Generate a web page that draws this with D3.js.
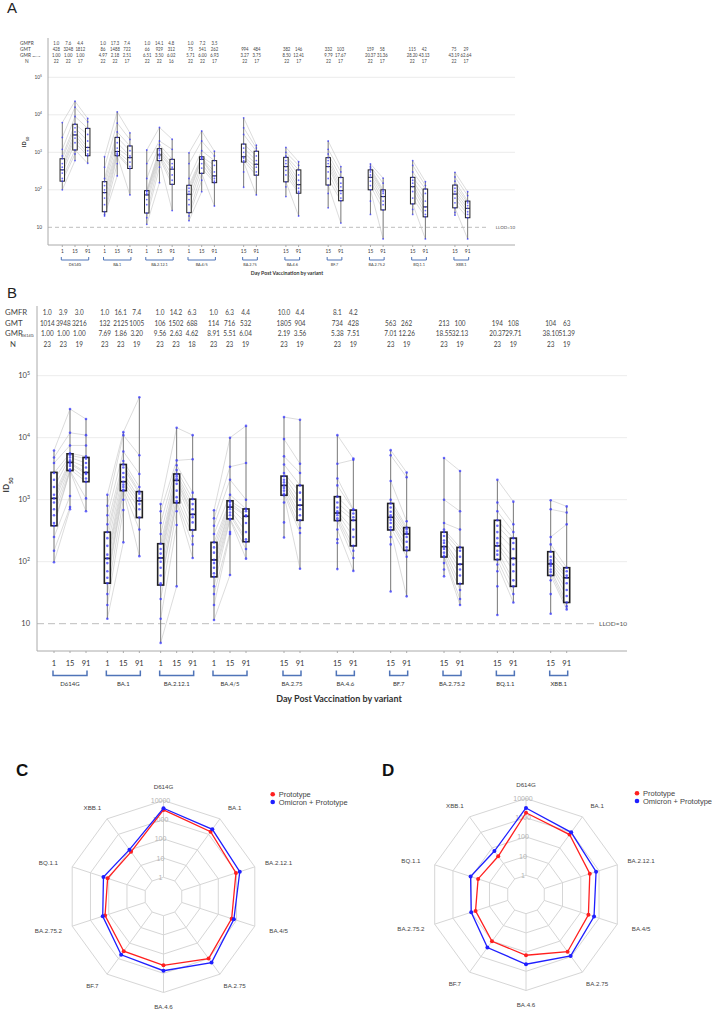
<!DOCTYPE html>
<html>
<head>
<meta charset="utf-8">
<script src="https://cdn.jsdelivr.net/npm/d3@7"></script>
<style>
body { margin: 0; background: #fff; }
svg { display: block; font-family: Lato, "Liberation Sans", sans-serif; }
</style>
</head>
<body>
<div id="fig"></div>
<script>
// variants and sampling days
const variants = ["D614G", "BA.1", "BA.2.12.1", "BA.4/5", "BA.2.75", "BA.4.6", "BF.7", "BA.2.75.2", "BQ.1.1", "XBB.1"];
const dayList = [[1, 15, 91], [1, 15, 91], [1, 15, 91], [1, 15, 91], [15, 91], [15, 91], [15, 91], [15, 91], [15, 91], [15, 91]];

// panel A table (prototype)
const aGMFR = ["1.0", "7.6", "4.4", "1.0", "17.3", "7.4", "1.0", "14.1", "4.8", "1.0", "7.2", "3.5", "", "", "", "", "", "", "", "", "", "", "", ""];
const aGMT = [428, 3248, 1812, 86, 1488, 722, 66, 929, 312, 75, 541, 262, 994, 484, 382, 146, 332, 103, 159, 58, 115, 42, 75, 29];
const aGMR = ["1.00", "1.00", "1.00", "4.97", "2.18", "2.51", "6.51", "3.50", "6.02", "5.71", "6.00", "6.93", "3.27", "3.75", "8.50", "12.41", "9.79", "17.67", "20.37", "31.36", "28.20", "43.13", "43.19", "62.64"];
const aN = [22, 22, 17, 22, 22, 17, 22, 22, 16, 22, 22, 17, 22, 17, 22, 17, 22, 17, 22, 17, 22, 17, 22, 17];

// panel B table (omicron + prototype)
const bGMFR = ["1.0", "3.9", "3.0", "1.0", "16.1", "7.4", "1.0", "14.2", "6.3", "1.0", "6.3", "4.4", "10.0", "4.4", "8.1", "4.2", "", "", "", "", "", "", "", ""];
const bGMT = [1014, 3948, 3216, 132, 2125, 1005, 106, 1502, 688, 114, 716, 532, 1805, 904, 734, 428, 563, 262, 213, 100, 194, 108, 104, 63];
const bGMR = ["1.00", "1.00", "1.00", "7.69", "1.86", "3.20", "9.56", "2.63", "4.62", "8.91", "5.51", "6.04", "2.19", "3.56", "5.38", "7.51", "7.01", "12.26", "18.55", "32.13", "20.37", "29.71", "38.10", "51.39"];
const bN = [23, 23, 19, 23, 23, 19, 23, 23, 18, 23, 23, 19, 23, 19, 23, 19, 23, 19, 23, 19, 23, 19, 23, 19];

// box stats
const aQ1 = [170, 1150, 810, 26, 810, 370, 24, 600, 140, 24.5, 275, 155, 550, 245, 163, 81, 134, 51, 100, 29, 42, 19, 33, 18];
const aMed = [340, 2900, 1350, 84, 1050, 720, 73, 850, 355, 76, 650, 235, 760, 480, 415, 137, 415, 95, 215, 66, 121, 35, 77, 32];
const aQ3 = [675, 5600, 4350, 165, 2500, 1480, 95, 1250, 650, 132, 760, 600, 1660, 1070, 735, 340, 720, 214, 340, 100, 215, 105, 134, 50];
const bQ1 = [380, 2950, 1950, 45, 1400, 515, 42, 890, 325, 57, 490, 210, 1180, 465, 460, 180, 325, 152, 119, 44, 108, 40, 60, 22];
const bMed = [1050, 4000, 2750, 113, 1950, 960, 115, 2050, 580, 107, 760, 540, 1700, 815, 610, 465, 520, 280, 175, 91, 180, 113, 92, 55];
const bQ3 = [2760, 5500, 4800, 300, 3700, 1350, 195, 2600, 1020, 205, 960, 710, 2400, 1700, 1120, 680, 870, 355, 300, 170, 465, 240, 145, 80];

// individual titres, one list per column (subjects in the same order)
const aPts = [
  [6200, 2500, 1200, 800, 675, 500, 400, 340, 280, 200, 170, 100],
  [23000, 16000, 9000, 5600, 4500, 3500, 2900, 2400, 1800, 1150, 900, 600],
  [8000, 6500, 4350, 3000, 2000, 1350, 1100, 900, 810, 510],
  [760, 400, 200, 165, 130, 100, 84, 60, 40, 26, 22, 20],
  [12000, 6000, 3500, 2500, 1800, 1300, 1050, 950, 880, 810, 500, 235],
  [3300, 2200, 1480, 1100, 800, 720, 550, 420, 370, 73],
  [1150, 500, 200, 95, 90, 80, 73, 55, 40, 24, 18, 12],
  [4600, 2000, 1600, 1250, 1100, 950, 850, 780, 700, 600, 400, 155],
  [2230, 1200, 650, 500, 400, 355, 250, 180, 140, 28],
  [970, 500, 200, 132, 110, 90, 76, 55, 40, 24.5, 20, 15],
  [3700, 2000, 1100, 760, 720, 680, 650, 500, 380, 275, 180, 89],
  [1070, 800, 600, 450, 300, 235, 200, 170, 155, 37],
  [8300, 4500, 3000, 1660, 1300, 1000, 760, 700, 600, 550, 300, 117],
  [1550, 1300, 1070, 800, 600, 480, 400, 300, 245, 73],
  [1350, 1000, 800, 735, 600, 500, 415, 330, 250, 163, 120, 66],
  [560, 450, 340, 250, 180, 137, 110, 90, 81, 20],
  [2000, 1200, 900, 720, 600, 500, 415, 300, 200, 134, 80, 33],
  [415, 300, 214, 150, 120, 95, 80, 60, 51, 13],
  [490, 420, 380, 340, 300, 250, 215, 170, 130, 100, 50, 22],
  [205, 150, 100, 90, 80, 66, 50, 40, 29, 4.9],
  [600, 450, 300, 215, 180, 150, 121, 90, 60, 42, 30, 22],
  [165, 130, 105, 80, 50, 35, 28, 22, 19, 4.9],
  [293, 220, 170, 134, 110, 90, 77, 60, 45, 33, 25, 21],
  [89, 70, 50, 45, 38, 32, 26, 22, 18, 4.9]
];
const bPts = [
  [6200, 4800, 3900, 2700, 2100, 1600, 1200, 1050, 900, 700, 560, 420, 380, 250, 150, 98],
  [29000, 12000, 7500, 5600, 5200, 4800, 4300, 4000, 3800, 3500, 3100, 2950, 2900, 1150, 760, 700],
  [20000, 11000, 7500, 5000, 4600, 3900, 3300, 2750, 2600, 2200, 1950, 1050, 650],
  [1200, 800, 560, 400, 300, 240, 180, 130, 113, 95, 70, 55, 45, 30, 20, 12],
  [12300, 11000, 6000, 4200, 3700, 3300, 2700, 2300, 1950, 1750, 1600, 1450, 1400, 1000, 680, 205],
  [45000, 5200, 2600, 1600, 1350, 1250, 1050, 960, 850, 700, 515, 330, 123],
  [850, 650, 420, 280, 195, 160, 135, 115, 100, 80, 60, 45, 42, 25, 12, 4.9],
  [14500, 4300, 3600, 3000, 2600, 2400, 2200, 2050, 1800, 1400, 1100, 950, 890, 650, 390, 40],
  [11000, 4500, 1300, 1020, 850, 700, 580, 520, 430, 325, 260, 190, 115],
  [675, 500, 380, 280, 205, 170, 140, 107, 95, 80, 65, 57, 40, 30, 20, 11.5],
  [10000, 3400, 2100, 1200, 960, 900, 820, 760, 700, 620, 560, 490, 480, 300, 280, 61],
  [15500, 3900, 1000, 710, 650, 560, 540, 420, 300, 230, 210, 160, 112],
  [21500, 9500, 5000, 3700, 2700, 2400, 2100, 1900, 1700, 1550, 1400, 1250, 1180, 900, 430, 245],
  [19500, 3800, 2700, 1700, 1300, 1000, 815, 700, 560, 465, 350, 290, 77],
  [11000, 3800, 2200, 1700, 1120, 900, 750, 650, 610, 560, 500, 460, 330, 230, 200, 76],
  [4600, 4400, 700, 680, 600, 520, 465, 330, 250, 180, 150, 115, 71],
  [6300, 5200, 2000, 1000, 870, 750, 640, 560, 520, 470, 420, 360, 325, 250, 190, 33],
  [2750, 2300, 450, 355, 330, 300, 280, 250, 210, 170, 152, 120, 27.6],
  [4700, 1000, 420, 330, 300, 260, 220, 200, 175, 160, 140, 125, 119, 95, 75, 58],
  [2900, 650, 330, 170, 150, 120, 91, 75, 60, 44, 35, 25, 20],
  [2100, 900, 650, 465, 380, 300, 240, 200, 180, 150, 130, 108, 90, 70, 40, 13.8],
  [930, 400, 300, 240, 200, 160, 113, 90, 70, 50, 40, 30, 22],
  [980, 700, 250, 190, 145, 120, 105, 97, 92, 85, 75, 68, 60, 50, 30, 14.5],
  [780, 620, 400, 80, 70, 60, 55, 45, 35, 28, 22, 19, 17]
];

const radarRings = [1, 10, 100, 1000, 10000];

const W = 712, H = 1011;
const svg = d3.select("#fig").append("svg").attr("width", W).attr("height", H);
svg.append("rect").attr("width", W).attr("height", H).attr("fill", "#fff");

// one entry per plotted column
const cols = [];
variants.forEach((v, gi) => dayList[gi].forEach((d, di) => cols.push({ v: v, gi: gi, di: di, n: dayList[gi].length, day: d })));

function drawPanel(o) {
  const g = svg.append("g");
  const y = o.y;
  const x = c => o.gx(c.gi) + (c.di - (c.n - 1) / 2) * o.step;
  const tx = c => o.tx(c.gi) + (c.di - (c.n - 1) / 2) * o.tstep;

  // grid
  g.selectAll(null).data([100, 1000, 10000, 100000]).join("line")
    .attr("x1", o.left).attr("x2", o.right)
    .attr("y1", d => y(d)).attr("y2", d => y(d))
    .attr("stroke", "#ececec").attr("stroke-width", 1);
  g.append("line").attr("x1", o.left).attr("x2", o.llodEnd)
    .attr("y1", y(10)).attr("y2", y(10))
    .attr("stroke", "#bdbdbd").attr("stroke-width", 1).attr("stroke-dasharray", o.dash);
  g.append("text").attr("x", o.right).attr("y", y(10)).attr("dy", "0.35em")
    .attr("text-anchor", "end").attr("font-size", o.fsSmall).attr("fill", "#555").text("LLOD=10");

  // axes
  g.append("line").attr("x1", o.left).attr("x2", o.left).attr("y1", o.axisTop).attr("y2", o.bottom).attr("stroke", "#aaa");
  g.append("line").attr("x1", o.left).attr("x2", o.right).attr("y1", o.bottom).attr("y2", o.bottom).attr("stroke", "#aaa");

  // y tick labels with superscripts
  const yt = g.selectAll(null).data([10, 100, 1000, 10000, 100000]).join("text")
    .attr("x", o.yTickX).attr("y", d => y(d)).attr("dy", "0.35em")
    .attr("text-anchor", "end").attr("font-size", o.fsTick).attr("fill", "#444");
  yt.append("tspan").text("10");
  yt.filter(d => d > 10).append("tspan").attr("baseline-shift", "super")
    .attr("font-size", o.fsTick * 0.7).text(d => Math.round(Math.log10(d)));

  // y label
  const yl = g.append("text").attr("transform", "translate(" + o.ylab[0] + "," + o.ylab[1] + ") rotate(-90)")
    .attr("text-anchor", "middle").attr("font-size", o.fsYlab).attr("font-weight", "bold").attr("fill", "#333");
  yl.append("tspan").text("ID");
  yl.append("tspan").attr("baseline-shift", "sub").attr("font-size", o.fsYlab * 0.7).text("50");

  // subject lines between consecutive days
  const links = [];
  cols.forEach((c, j) => {
    if (c.di < c.n - 1) {
      const a = o.pts[j], b = o.pts[j + 1];
      for (let i = 0; i < Math.min(a.length, b.length); i++) {
        links.push({ x1: x(c), y1: y(a[i]), x2: x(cols[j + 1]), y2: y(b[i]) });
      }
    }
  });
  g.selectAll(null).data(links).join("line")
    .attr("x1", d => d.x1).attr("y1", d => d.y1).attr("x2", d => d.x2).attr("y2", d => d.y2)
    .attr("stroke", "#c4c4c4").attr("stroke-width", 0.6);

  // whiskers (full range)
  g.selectAll(null).data(cols).join("line")
    .attr("x1", c => x(c)).attr("x2", c => x(c))
    .attr("y1", (c, j) => y(d3.max(o.pts[j]))).attr("y2", (c, j) => y(d3.min(o.pts[j])))
    .attr("stroke", "#777").attr("stroke-width", 1);

  // boxes
  g.selectAll(null).data(cols).join("rect")
    .attr("x", c => x(c) - o.bw / 2).attr("width", o.bw)
    .attr("y", (c, j) => y(o.q3[j])).attr("height", (c, j) => y(o.q1[j]) - y(o.q3[j]))
    .attr("fill", "#fff").attr("stroke", "#222").attr("stroke-width", o.boxStroke);
  g.selectAll(null).data(cols).join("line")
    .attr("x1", c => x(c) - o.bw / 2).attr("x2", c => x(c) + o.bw / 2)
    .attr("y1", (c, j) => y(o.med[j])).attr("y2", (c, j) => y(o.med[j]))
    .attr("stroke", "#222").attr("stroke-width", o.boxStroke);

  // points
  const dots = [];
  cols.forEach((c, j) => o.pts[j].forEach(v => dots.push({ x: x(c), v: v })));
  g.selectAll(null).data(dots).join("circle")
    .attr("cx", d => d.x).attr("cy", d => y(d.v)).attr("r", o.pr)
    .attr("fill", "#3a3aff").attr("fill-opacity", 0.75);

  // table (numbers squeezed horizontally like the narrow source font)
  const rows = [["GMFR", o.gmfr], ["GMT", o.gmt], ["GMR", o.gmr], ["N", o.n]];
  rows.forEach((r, ri) => {
    g.append("text").attr("x", ri === 3 ? o.labX + o.nShift : o.labX).attr("y", o.rowY[ri]).attr("dy", "0.35em")
      .attr("font-size", o.fsTable).attr("fill", "#444").text(r[0]);
    g.selectAll(null).data(cols).join("text")
      .attr("transform", c => "translate(" + tx(c) + "," + o.rowY[ri] + ") scale(" + o.tScale + ",1)")
      .attr("dy", "0.35em")
      .attr("text-anchor", "middle").attr("font-size", o.fsTable).attr("fill", "#444")
      .text((c, j) => r[1][j]);
  });
  g.append("text").attr("x", o.subX).attr("y", o.rowY[2] + o.fsTable * 0.3).attr("dy", "0.35em")
    .attr("font-size", o.fsTable * 0.5).attr("fill", "#444").text("D614G");

  // x ticks and day labels
  g.selectAll(null).data(cols).join("line")
    .attr("x1", c => x(c)).attr("x2", c => x(c)).attr("y1", o.bottom).attr("y2", o.bottom + 2)
    .attr("stroke", "#aaa");
  g.selectAll(null).data(cols).join("text")
    .attr("x", c => x(c)).attr("y", o.tickY).attr("dy", "0.35em").attr("text-anchor", "middle")
    .attr("font-size", o.fsTick).attr("fill", "#333").text(c => c.day);

  // brackets and variant names
  variants.forEach((v, gi) => {
    const gc = cols.filter(c => c.gi === gi);
    const x1 = x(gc[0]) - 1, x2 = x(gc[gc.length - 1]) + 1;
    g.append("path")
      .attr("d", "M" + x1 + "," + (o.brY - o.brH) + " L" + x1 + "," + o.brY + " L" + x2 + "," + o.brY + " L" + x2 + "," + (o.brY - o.brH))
      .attr("fill", "none").attr("stroke", "#4f74b8").attr("stroke-width", o.brW);
    g.append("text").attr("x", (x1 + x2) / 2).attr("y", o.varY).attr("dy", "0.35em")
      .attr("text-anchor", "middle").attr("font-size", o.fsVar).attr("fill", "#333").text(v);
  });
  g.append("text").attr("x", o.title[0]).attr("y", o.title[1]).attr("dy", "0.35em")
    .attr("text-anchor", "middle").attr("font-size", o.fsTitle).attr("font-weight", "bold").attr("fill", "#333")
    .text("Day Post Vaccination by variant");
}

drawPanel({
  left: 48, right: 515, axisTop: 38, bottom: 245, llodEnd: 489, dash: "4,3",
  y: d3.scaleLog().domain([10, 100000]).range([227.3, 77.3]),
  gx: d3.scaleLinear().domain([0, 3, 4, 9]).range([75, 201.7, 250, 461.3]), step: 12.7,
  tx: d3.scaleLinear().domain([0, 1, 2, 3, 4, 9]).range([68.3, 115, 159.3, 202.5, 250.8, 460]), tstep: 12,
  q1: aQ1, med: aMed, q3: aQ3, pts: aPts, gmfr: aGMFR, gmt: aGMT, gmr: aGMR, n: aN,
  bw: 4.5, pr: 0.9, boxStroke: 1,
  rowY: [43, 49, 55, 61], labX: 20, nShift: 5, subX: 32.5, fsTable: 4.8, tScale: 0.88,
  yTickX: 42, fsTick: 4.8, fsSmall: 4.5, ylab: [26, 142], fsYlab: 5.5,
  tickY: 251.7, brY: 260, brH: 3, brW: 1, varY: 264.5, fsVar: 3.8,
  title: [287, 272.7], fsTitle: 5.2
});

drawPanel({
  left: 37, right: 627, axisTop: 306, bottom: 651, llodEnd: 597, dash: "7,4",
  y: d3.scaleLog().domain([10, 100000]).range([623.7, 375.7]),
  gx: d3.scaleLinear().domain([0, 3, 4, 9]).range([70, 230, 292, 558.7]), step: 16,
  tx: d3.scaleLinear().domain([0, 1, 2, 3, 4, 9]).range([63.3, 120.7, 176, 229.6, 292, 558.7]), tstep: 16,
  q1: bQ1, med: bMed, q3: bQ3, pts: bPts, gmfr: bGMFR, gmt: bGMT, gmr: bGMR, n: bN,
  bw: 6, pr: 1.3, boxStroke: 1.6,
  rowY: [312, 323, 333.5, 344], labX: 5, nShift: 5, subX: 21, fsTable: 7.8, tScale: 0.82,
  yTickX: 30, fsTick: 7.5, fsSmall: 6.5, ylab: [9, 485], fsYlab: 8,
  tickY: 663, brY: 675.5, brH: 5, brW: 1.5, varY: 684, fsVar: 6,
  title: [339, 699], fsTitle: 9
});

// panel letters
svg.append("text").attr("x", 7).attr("y", 13).attr("font-size", 15).attr("font-family", "Liberation Sans").attr("fill", "#222").text("A");
svg.append("text").attr("x", 7).attr("y", 298).attr("font-size", 15).attr("font-family", "Liberation Sans").attr("fill", "#222").text("B");
svg.append("text").attr("x", 16).attr("y", 776).attr("font-size", 17).attr("font-weight", "bold").attr("font-family", "Liberation Sans").attr("fill", "#111").text("C");
svg.append("text").attr("x", 382).attr("y", 776).attr("font-size", 17).attr("font-weight", "bold").attr("font-family", "Liberation Sans").attr("fill", "#111").text("D");

// radar charts of GMT: red = prototype (A), blue = omicron + prototype (B)
function gmtByDay(gmt, day) {
  return variants.map((v, gi) => gmt[cols.findIndex(c => c.gi === gi && c.day === day)]);
}

function drawRadar(cx, cy, R, redVals, blueVals, legX, legY) {
  const g = svg.append("g").attr("font-family", "Liberation Sans");
  const r = d3.scaleLog().domain([1, 10000]).range([R / 5, R]);
  const ang = d3.scaleLinear().domain([0, variants.length]).range([0, 2 * Math.PI]);
  const pt = (k, rad) => [cx + rad * Math.sin(ang(k)), cy - rad * Math.cos(ang(k))];
  const line = d3.line().curve(d3.curveLinearClosed);

  radarRings.forEach(v => {
    g.append("path").attr("d", line(variants.map((n, k) => pt(k, r(v)))))
      .attr("fill", "none").attr("stroke", "#d6d6d6").attr("stroke-width", 1);
  });
  variants.forEach((n, k) => {
    const a = pt(k, r(1)), b = pt(k, r(10000));
    g.append("line").attr("x1", a[0]).attr("y1", a[1]).attr("x2", b[0]).attr("y2", b[1])
      .attr("stroke", "#d6d6d6").attr("stroke-width", 1);
    g.append("text").attr("x", cx + 121 * Math.sin(ang(k))).attr("y", cy - 110 * Math.cos(ang(k)))
      .attr("dy", "0.35em").attr("text-anchor", "middle").attr("font-size", 6.2).attr("fill", "#444").text(n);
  });
  radarRings.forEach(v => {
    g.append("text").attr("x", cx - 3).attr("y", cy - r(v)).attr("dy", "0.35em")
      .attr("text-anchor", "middle").attr("font-size", 7).attr("fill", "#b5b5b5").text(v);
  });

  [[redVals, "#ff1f1f"], [blueVals, "#1f1fff"]].forEach(s => {
    const p = s[0].map((v, k) => pt(k, r(v)));
    g.append("path").attr("d", line(p)).attr("fill", "none").attr("stroke", s[1]).attr("stroke-width", 1.3);
    g.selectAll(null).data(p).join("circle").attr("cx", d => d[0]).attr("cy", d => d[1]).attr("r", 2).attr("fill", s[1]);
  });

  [["Prototype", "#ff1f1f"], ["Omicron + Prototype", "#1f1fff"]].forEach((l, i) => {
    g.append("circle").attr("cx", legX).attr("cy", legY + i * 7.7).attr("r", 2.3).attr("fill", l[1]);
    g.append("text").attr("x", legX + 6).attr("y", legY + i * 7.7).attr("dy", "0.35em")
      .attr("font-size", 7.5).attr("fill", "#444").text(l[0]);
  });
}

drawRadar(163.5, 896.5, 96, gmtByDay(aGMT, 15), gmtByDay(bGMT, 15), 272.7, 794.3);
drawRadar(526, 894.5, 96, gmtByDay(aGMT, 91), gmtByDay(bGMT, 91), 637, 793.3);
</script>
</body>
</html>
